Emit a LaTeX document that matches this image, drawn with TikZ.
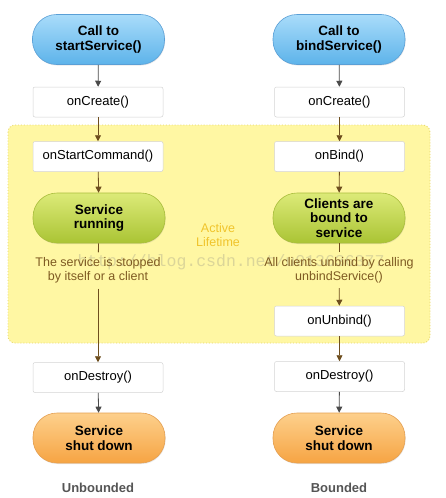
\documentclass[tikz,border=0pt]{standalone}
\usepackage{fontspec}
\setmainfont{Liberation Sans}
\newfontfamily\wmfont{Liberation Mono}
\usetikzlibrary{arrows.meta,shadows}
\definecolor{bluetop}{HTML}{A9DCFA}
\definecolor{bluebot}{HTML}{5DB3EA}
\definecolor{blueline}{HTML}{5A9FD6}
\definecolor{greentop}{HTML}{DCEA78}
\definecolor{greenbot}{HTML}{AAC434}
\definecolor{greenline}{HTML}{A9BD3C}
\definecolor{orangetop}{HTML}{FDD08C}
\definecolor{orangebot}{HTML}{F6A443}
\definecolor{orangeline}{HTML}{E5A052}
\definecolor{zonefill}{HTML}{FFF7A3}
\definecolor{zoneline}{HTML}{E6D66A}
\definecolor{boxline}{HTML}{D4D4D4}
\definecolor{darkarrow}{HTML}{4A4A4A}
\definecolor{brownarrow}{HTML}{6E4E1E}
\definecolor{notetext}{HTML}{7E5A22}
\definecolor{activetext}{HTML}{F0C42C}
\definecolor{foottext}{HTML}{555555}
\tikzset{
  pill/.style={draw, line width=0.6pt, minimum width=132pt, minimum height=50pt,
    rounded corners=24pt, align=center, inner sep=1pt, font=\fontsize{13.5}{14.5}\selectfont\bfseries,
    drop shadow={opacity=0.18, shadow xshift=0.6pt, shadow yshift=-1pt}},
  bluepill/.style={pill, top color=bluetop, bottom color=bluebot, draw=blueline},
  greenpill/.style={pill, top color=greentop, bottom color=greenbot, draw=greenline},
  orangepill/.style={pill, top color=orangetop, bottom color=orangebot, draw=orangeline},
  cbox/.style={draw=boxline, fill=white, line width=0.5pt, minimum width=130pt,
    minimum height=30pt, rounded corners=2pt, font=\fontsize{13}{14}\selectfont},
  note/.style={align=center, text=notetext, font=\fontsize{12.5}{14}\selectfont, inner sep=5pt},
  arr/.style={-{Triangle[length=6pt,width=6pt]}, line width=0.8pt},
  plain/.style={line width=0.8pt},
  foot/.style={text=foottext, font=\fontsize{13}{15}\selectfont\bfseries}
}
\begin{document}
\begin{tikzpicture}[x=1pt,y=-1pt]
\useasboundingbox[fill=white] (0,0) rectangle (445,498);
% active lifetime zone
\draw[fill=zonefill, draw=zoneline, dotted, line width=0.9pt, rounded corners=7pt]
  (8,125) rectangle (430,343);
\node[text=activetext, align=center, font=\fontsize{12.5}{14}\selectfont] (al) at (218,235) {Active\\Lifetime};
% watermark
\node[text=gray, opacity=0.28, font=\wmfont\fontsize{16.5}{18}\selectfont] (wm) at (231,262) {http://blog.csdn.net/u013636377};
% left column
\node[bluepill] (s1) at (98.5,39.5) {Call to\\startService()};
\node[cbox] (c1) at (98,102) {onCreate()};
\node[cbox] (sc) at (98,156.5) {onStartCommand()};
\node[greenpill] (sr) at (99,218) {Service\\running};
\node[note] (t1) at (98,270.5) {The service is stopped\\by itself or a client};
\node[cbox] (d1) at (98,377.5) {onDestroy()};
\node[orangepill] (sd1) at (99,438) {Service\\shut down};
\node[foot] (u1) at (98,488) {Unbounded};
% right column
\node[bluepill] (b1) at (339,39.5) {Call to\\bindService()};
\node[cbox] (c2) at (339.5,102) {onCreate()};
\node[cbox] (ob) at (339.5,156.5) {onBind()};
\node[greenpill] (cb) at (339,218) {Clients are\\bound to\\service};
\node[note] (t2) at (339,270) {All clients unbind by calling\\unbindService()};
\node[cbox] (ou) at (339.5,321) {onUnbind()};
\node[cbox] (d2) at (339.5,376.5) {onDestroy()};
\node[orangepill] (sd2) at (339,438) {Service\\shut down};
\node[foot] (u2) at (339,488) {Bounded};
% connectors left
\draw[arr, darkarrow] (s1) -- (c1);
\draw[arr, brownarrow] (c1) -- (sc);
\draw[arr, brownarrow] (sc) -- (sr);
\draw[plain, brownarrow] (sr) -- (t1);
\draw[arr, brownarrow] (t1) -- (d1);
\draw[arr, darkarrow] (d1) -- (sd1);
% connectors right
\draw[arr, darkarrow] (b1) -- (c2);
\draw[arr, brownarrow] (c2) -- (ob);
\draw[arr, brownarrow] (ob) -- (cb);
\draw[plain, brownarrow] (cb) -- (t2);
\draw[arr, brownarrow] (t2) -- (ou);
\draw[arr, brownarrow] (ou) -- (d2);
\draw[arr, darkarrow] (d2) -- (sd2);
\end{tikzpicture}
\end{document}
